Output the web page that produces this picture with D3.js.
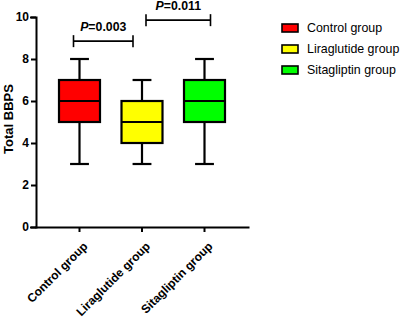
<!DOCTYPE html>
<html><head><meta charset="utf-8">
<script src="https://cdn.jsdelivr.net/npm/d3@7"></script>
<style>body{margin:0;background:#fff}svg{display:block}text{font-family:"Liberation Sans",Arial,sans-serif}</style>
</head><body><svg id="c" width="400" height="318"></svg>
<script>
const categories = ["Control group", "Liraglutide group", "Sitagliptin group"];
const colors = ["#ff0000", "#ffff00", "#00ff00"];
const whiskerMin = [3, 3, 3];
const q1 = [5, 4, 5];
const median = [6, 5, 6];
const q3 = [7, 6, 7];
const whiskerMax = [8, 7, 8];
const yTicks = [0, 2, 4, 6, 8, 10];
const brackets = [
  {from: 0, to: 1, y: 8.85, label: "0.003"},
  {from: 1, to: 2, y: 9.85, label: "0.011"}
];
const yTitle = "Total BBPS";

const svg = d3.select("#c");
const x = d3.scaleBand().domain(categories).range([36, 248]).paddingInner(0.344).paddingOuter(0.368);
const y = d3.scaleLinear().domain([0, 10]).range([227, 17]);

// axes
const yAxis = svg.append("g").attr("transform", "translate(36,0)")
  .call(d3.axisLeft(y).tickValues(yTicks).tickSize(5).tickPadding(2));
const xAxis = svg.append("g").attr("transform", "translate(0,227)")
  .call(d3.axisBottom(x).tickSize(5).tickSizeOuter(0).tickFormat(""));
[yAxis, xAxis].forEach(a => {
  a.selectAll("path,line").attr("stroke", "#000").attr("stroke-width", 2);
  a.select(".domain").attr("stroke-linecap", "square");
});
yAxis.selectAll("text").attr("font-size", 12).attr("font-weight", "bold").attr("fill", "#000");

// x labels rotated
categories.forEach(c => {
  svg.append("text")
    .attr("transform", `translate(${x(c) + x.bandwidth() / 2 + 3},${241}) rotate(-45)`)
    .attr("text-anchor", "end").attr("font-size", 12).attr("font-weight", "bold")
    .attr("dy", "0.7em").text(c);
});

// y title
svg.append("text").attr("transform", `translate(13,${(y(0) + y(10)) / 2 - 3}) rotate(-90)`)
  .attr("text-anchor", "middle").attr("font-size", 13).attr("font-weight", "bold").text(yTitle);

// boxes
const g = svg.append("g").attr("stroke", "#000").attr("stroke-width", 2.2);
categories.forEach((c, i) => {
  const cx = x(c) + x.bandwidth() / 2;
  const bw = x.bandwidth();
  const cap = bw * 0.46;
  g.append("line").attr("x1", cx).attr("x2", cx).attr("y1", y(whiskerMin[i])).attr("y2", y(q1[i]));
  g.append("line").attr("x1", cx).attr("x2", cx).attr("y1", y(q3[i])).attr("y2", y(whiskerMax[i]));
  g.append("line").attr("x1", cx - cap / 2).attr("x2", cx + cap / 2).attr("y1", y(whiskerMin[i])).attr("y2", y(whiskerMin[i]));
  g.append("line").attr("x1", cx - cap / 2).attr("x2", cx + cap / 2).attr("y1", y(whiskerMax[i])).attr("y2", y(whiskerMax[i]));
  g.append("rect").attr("x", x(c)).attr("width", bw).attr("y", y(q3[i])).attr("height", y(q1[i]) - y(q3[i]))
    .attr("fill", colors[i]);
  g.append("line").attr("x1", x(c)).attr("x2", x(c) + bw).attr("y1", y(median[i])).attr("y2", y(median[i]));
});

// significance brackets
const offs = [[-6, -9], [4, 6]];
brackets.forEach((b, k) => {
  const x1 = x(categories[b.from]) + x.bandwidth() / 2 + offs[k][0];
  const x2 = x(categories[b.to]) + x.bandwidth() / 2 + offs[k][1];
  const yy = y(b.y);
  const bg = svg.append("g").attr("stroke", "#000").attr("stroke-width", 1.6);
  bg.append("line").attr("x1", x1).attr("x2", x2).attr("y1", yy).attr("y2", yy);
  bg.append("line").attr("x1", x1).attr("x2", x1).attr("y1", yy - 6).attr("y2", yy + 6);
  bg.append("line").attr("x1", x2).attr("x2", x2).attr("y1", yy - 6).attr("y2", yy + 6);
  const t = svg.append("text").attr("x", (x1 + x2) / 2).attr("y", yy - 10)
    .attr("text-anchor", "middle").attr("font-size", 12.3).attr("font-weight", "bold");
  t.append("tspan").attr("font-style", "italic").text("P");
  t.append("tspan").text("=" + b.label);
});

// legend
categories.forEach((c, i) => {
  const ly = 28 + i * 21;
  svg.append("rect").attr("x", 282).attr("y", ly - 4).attr("width", 16).attr("height", 8)
    .attr("fill", colors[i]).attr("stroke", "#000").attr("stroke-width", 1.6);
  svg.append("text").attr("x", 307).attr("y", ly).attr("dy", "0.35em").attr("font-size", 12.4).text(c);
});
</script></body></html>
